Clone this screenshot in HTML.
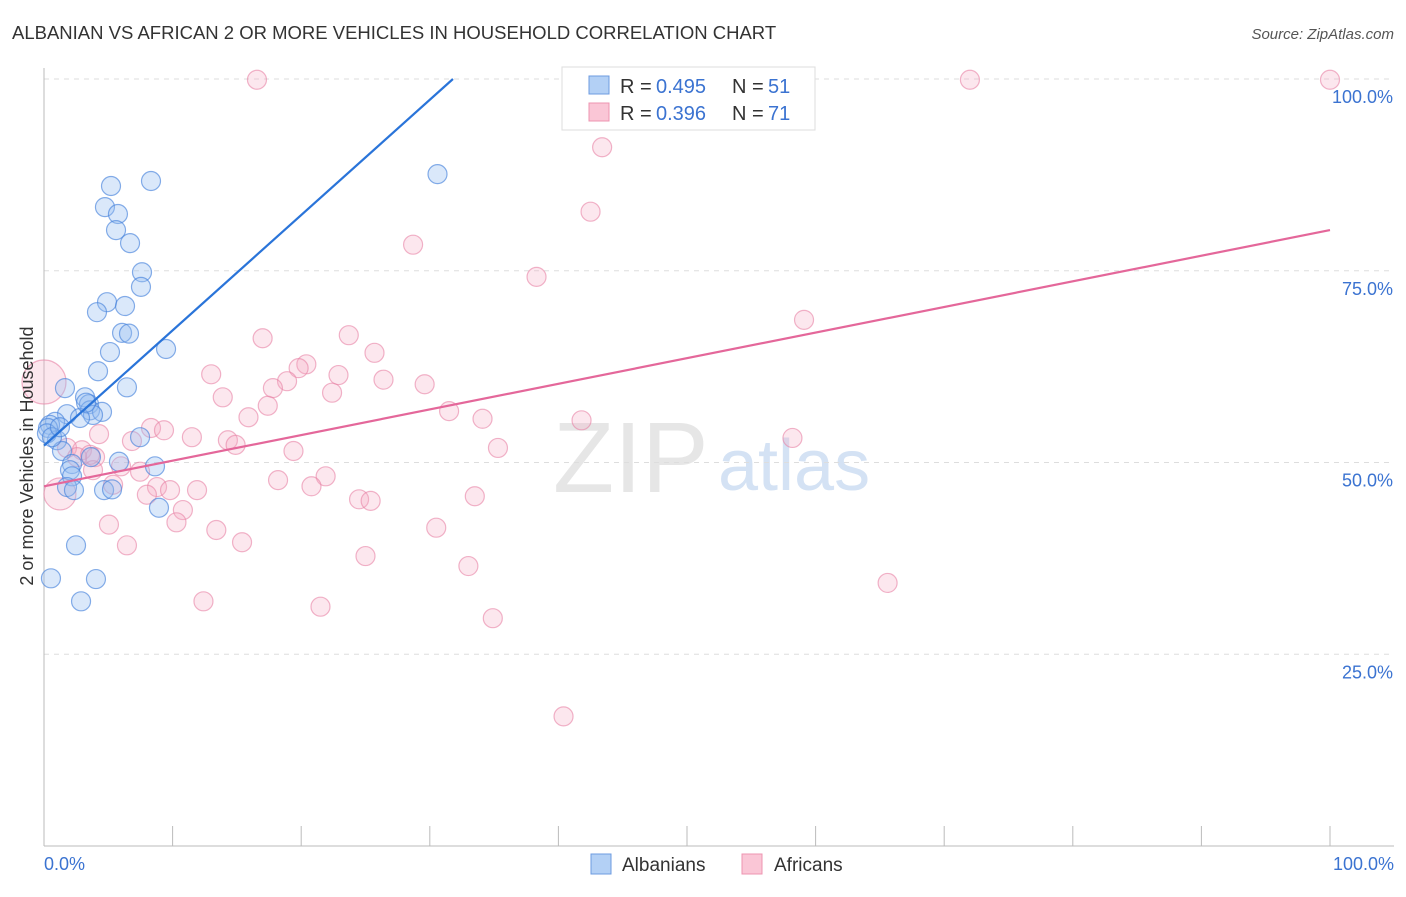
<!DOCTYPE html>
<html><head><meta charset="utf-8"><style>
body{margin:0;background:#fff;font-family:"Liberation Sans",sans-serif}
svg text{font-family:"Liberation Sans",sans-serif}
</style></head><body>
<svg id="chart" width="1406" height="892">
<text x="12" y="39" font-size="18.5" fill="#333">ALBANIAN VS AFRICAN 2 OR MORE VEHICLES IN HOUSEHOLD CORRELATION CHART</text>
<text x="1394" y="39" font-size="15" fill="#555" text-anchor="end" font-style="italic">Source: ZipAtlas.com</text>
<text x="553" y="492" font-size="100" fill="#e6e6e6" font-family="Liberation Serif">ZIP</text>
<text x="718" y="490" font-size="72" fill="#d4e2f4">atlas</text>
<g id="grid"></g><g id="pts"></g><g id="lines"></g>
<text transform="translate(33,456) rotate(-90)" font-size="18" fill="#333" text-anchor="middle">2 or more Vehicles in Household</text>
<text x="44" y="870" font-size="18" fill="#3b73d1">0.0%</text>
<text x="1394" y="870" font-size="18" fill="#3b73d1" text-anchor="end">100.0%</text>
<g>
<rect x="562" y="67" width="253" height="63" fill="#fff" stroke="#ddd"/>
<rect x="589" y="76" width="20" height="18" fill="#b3d0f5" stroke="#6d9be0"/>
<rect x="589" y="103" width="20" height="18" fill="#fac6d6" stroke="#ee94b0"/>
<text x="620" y="93" font-size="20" fill="#333">R =</text>
<text x="656" y="93" font-size="20" fill="#3b73d1">0.495</text>
<text x="732" y="93" font-size="20" fill="#333">N =</text>
<text x="768" y="93" font-size="20" fill="#3b73d1">51</text>
<text x="620" y="120" font-size="20" fill="#333">R =</text>
<text x="656" y="120" font-size="20" fill="#3b73d1">0.396</text>
<text x="732" y="120" font-size="20" fill="#333">N =</text>
<text x="768" y="120" font-size="20" fill="#3b73d1">71</text>
</g>
<g>
<rect x="591" y="854" width="20" height="20" fill="#b3d0f5" stroke="#6d9be0"/>
<text x="622" y="871" font-size="19" fill="#333">Albanians</text>
<rect x="742" y="854" width="20" height="20" fill="#fac6d6" stroke="#ee94b0"/>
<text x="774" y="871" font-size="19" fill="#333">Africans</text>
</g>
</svg>
<script>
const yTicks=[25,50,75,100];
const yTickLabels=["25.0%","50.0%","75.0%","100.0%"];
const xTicks=[0,10,20,30,40,50,60,70,80,90,100];
const blueX=[5.21,8.32,4.74,5.75,5.6,6.69,7.62,7.54,4.9,6.3,4.12,6.07,6.61,5.13,9.49,4.2,6.45,1.63,3.19,3.5,3.58,4.51,3.81,1.79,2.8,0.86,0.47,0.31,1.01,7.47,1.4,3.65,2.18,5.83,8.63,2.02,2.18,1.79,2.33,4.67,5.29,8.94,2.49,0.54,4.04,2.88,30.6,0.23,0.62,1.24,3.27];
const blueY=[86.05,86.7,83.3,82.4,80.3,78.6,74.8,72.9,70.9,70.4,69.6,66.9,66.8,64.4,64.8,61.9,59.8,59.7,58.5,57.6,56.8,56.6,56.2,56.3,55.8,55.3,54.9,54.5,52.9,53.3,51.5,50.7,49.8,50.1,49.5,49.0,48.2,46.8,46.4,46.4,46.5,44.1,39.2,34.9,34.8,31.9,87.6,53.8,53.3,54.6,57.8];
const pinkX=[16.56,72.0,100,43.4,42.5,28.7,38.3,59.1,17.0,23.7,25.7,20.4,19.8,13.0,22.9,18.9,26.4,29.6,17.8,13.9,22.4,31.5,34.1,17.4,15.9,41.8,8.32,9.33,4.28,11.5,14.3,6.84,14.9,58.2,19.4,35.3,1.79,2.95,3.97,5.99,2.57,3.58,7.47,3.81,18.2,21.9,20.8,8.79,9.8,11.9,8.0,5.37,1.24,24.5,25.4,33.5,10.8,10.3,5.05,13.4,30.5,15.4,6.45,25.0,33.0,65.6,12.4,21.5,34.9,40.4,0];
const pinkY=[99.9,99.9,99.9,91.1,82.7,78.4,74.2,68.6,66.2,66.6,64.3,62.8,62.3,61.5,61.4,60.6,60.8,60.2,59.7,58.5,59.1,56.7,55.7,57.4,55.9,55.5,54.5,54.2,53.7,53.3,52.9,52.8,52.3,53.2,51.5,51.9,51.9,51.6,50.7,49.5,50.7,51.0,48.8,49.0,47.7,48.2,46.9,46.8,46.4,46.4,45.8,47.1,45.9,45.2,45.0,45.6,43.8,42.2,41.9,41.2,41.5,39.6,39.2,37.8,36.5,34.3,31.9,31.2,29.7,16.9,60.5];
const pinkBigIdx=[52,70];
const blueLine=[0,52.2,31.8,100];
const pinkLine=[0,46.9,100,80.3];
const X=v=>44+v*12.86, Y=v=>846-v*7.67;
const NS="http://www.w3.org/2000/svg";
function mk(t,a,p){const e=document.createElementNS(NS,t);for(const k in a)e.setAttribute(k,a[k]);p.appendChild(e);return e;}
const grid=document.getElementById('grid'),pts=document.getElementById('pts'),lines=document.getElementById('lines');
yTicks.forEach((t,i)=>{
 const l=mk('line',{x1:44,x2:1394,y1:Y(t),y2:Y(t),stroke:'#ddd','stroke-dasharray':'5,5'},grid);
 
 
 const tx=mk('text',{x:1393,y:Y(t)+24,'font-size':18,fill:'#3b73d1','text-anchor':'end'},grid);
 tx.textContent=yTickLabels[i];
 
 
});
const ax=mk('line',{x1:44,x2:44,y1:68,y2:846,stroke:'#bbb'},grid);


const bx=mk('line',{x1:44,x2:1394,y1:846,y2:846,stroke:'#bbb'},grid);


xTicks.forEach(t=>{
 const l=mk('line',{x1:X(t),x2:X(t),y1:826,y2:846,stroke:'#bbb'},grid);
 
 
});
pinkX.forEach((x,i)=>{
 const r=pinkBigIdx.indexOf(i)>=0?(i===70?22:16):9.5;
 const c=mk('circle',{cx:X(x),cy:Y(pinkY[i]),r:r,fill:'rgba(246,170,195,0.28)',stroke:'rgba(232,130,165,0.6)','stroke-width':1.2},pts);
 
 
});
blueX.forEach((x,i)=>{
 const c=mk('circle',{cx:X(x),cy:Y(blueY[i]),r:9.5,fill:'rgba(150,190,240,0.35)',stroke:'rgba(70,130,220,0.65)','stroke-width':1.2},pts);
 
 
});
const bl=mk('line',{x1:X(blueLine[0]),y1:Y(blueLine[1]),x2:X(blueLine[2]),y2:Y(blueLine[3]),stroke:'#2a74d9','stroke-width':2.2},lines);


const pl=mk('line',{x1:X(pinkLine[0]),y1:Y(pinkLine[1]),x2:X(pinkLine[2]),y2:Y(pinkLine[3]),stroke:'#e4679a','stroke-width':2.2},lines);


</script>
</body></html>
